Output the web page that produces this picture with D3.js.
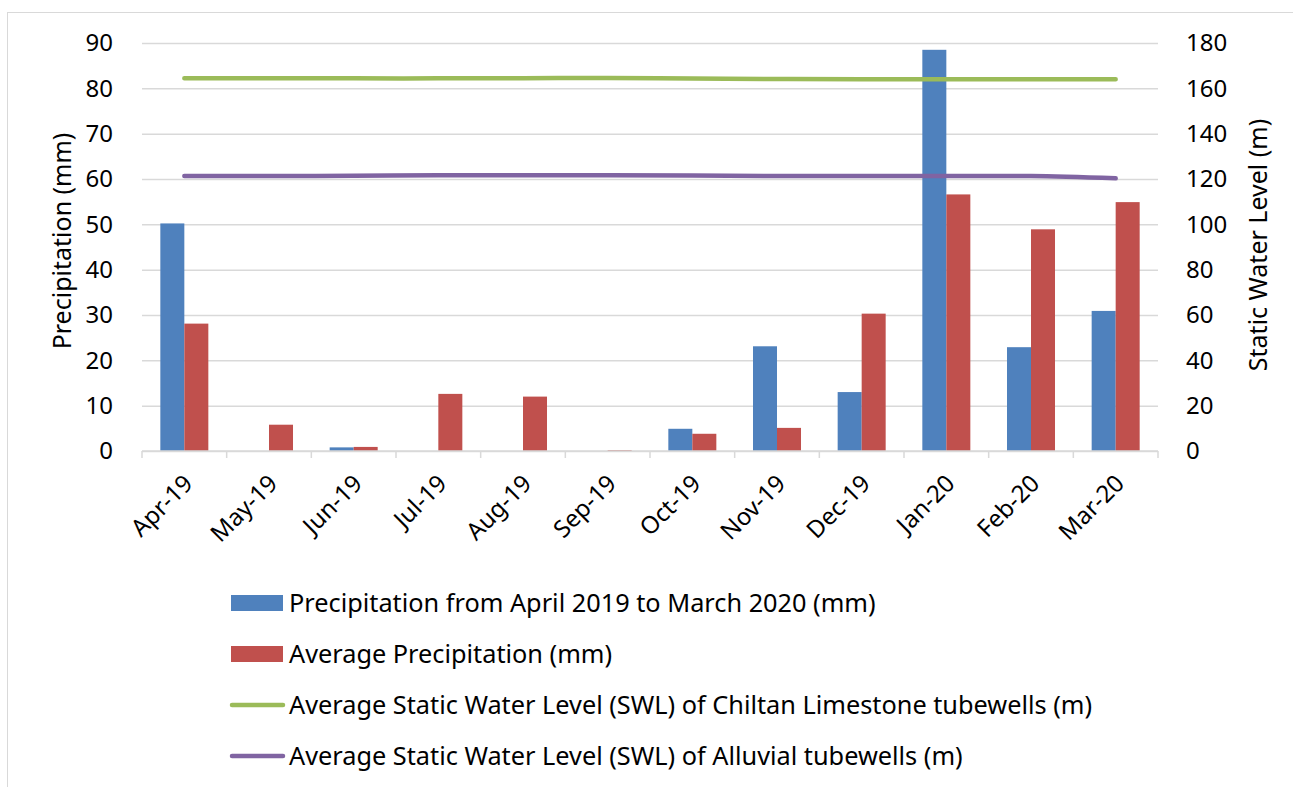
<!DOCTYPE html>
<html>
<head>
  <meta charset="utf-8">
<style>
  body { margin: 0; background: #fff; }
  svg text { font-family: "Noto Sans", "Open Sans", sans-serif; fill: #000; }
  .grid line { stroke: #d9d9d9; stroke-width: 1.5; }
  .grid .domain { display: none; }
</style>
<script src="https://d3js.org/d3.v7.min.js"></script>
</head>
<body>
<svg width="1293" height="787"></svg>
<script>
  // data
  var months = ["Apr-19", "May-19", "Jun-19", "Jul-19", "Aug-19", "Sep-19",
                "Oct-19", "Nov-19", "Dec-19", "Jan-20", "Feb-20", "Mar-20"];
  var precip = [50.2, 0, 0.8, 0, 0, 0, 4.9, 23.1, 13.0, 88.5, 22.9, 30.9];
  var avgPrecip = [28.1, 5.8, 0.9, 12.6, 12.0, 0.2, 3.8, 5.1, 30.3, 56.6, 48.9, 54.9];
  var swlChiltan = [164.4, 164.4, 164.4, 164.4, 164.5, 164.6, 164.3, 164.1, 164.0, 164.0, 164.0, 164.0];
  var swlAlluvial = [121.3, 121.3, 121.4, 121.6, 121.6, 121.6, 121.5, 121.3, 121.3, 121.3, 121.3, 120.3];
  var leftTicks = [0, 10, 20, 30, 40, 50, 60, 70, 80, 90];
  var rightTicks = [0, 20, 40, 60, 80, 100, 120, 140, 160, 180];
  var legendNames = [
    "Precipitation from April 2019 to March 2020 (mm)",
    "Average Precipitation (mm)",
    "Average Static Water Level (SWL) of Chiltan Limestone tubewells (m)",
    "Average Static Water Level (SWL) of Alluvial tubewells (m)"
  ];
  var colors = ["#4f81bd", "#c0504d", "#9bbb59", "#8064a2"];

  function draw() {
    var svg = d3.select("svg");
    var pl = 142, pr = 1158, pt = 43, pb = 451;
    var fs = 24;

    // outer frame
    svg.append("rect")
        .attr("x", 7.5).attr("y", 12.5)
        .attr("width", 1300).attr("height", 800)
        .attr("fill", "none").attr("stroke", "#d9d9d9");

    var x = d3.scaleBand()
        .domain(months)
        .range([pl, pr])
        .paddingInner(0.433)
        .paddingOuter(0.2165);
    var xs = d3.scaleBand().domain([0, 1]).range([0, x.bandwidth()]);
    var y = d3.scaleLinear().domain([0, 90]).range([pb, pt]);
    var y2 = d3.scaleLinear().domain([0, 180]).range([pb, pt]);

    // gridlines
    svg.append("g")
        .attr("class", "grid")
        .attr("transform", "translate(" + pl + ",0)")
        .call(d3.axisLeft(y).tickValues(leftTicks).tickSize(-(pr - pl)).tickFormat(""));

    // left tick labels
    svg.append("g").selectAll("text")
        .data(leftTicks)
      .enter().append("text")
        .attr("x", 113)
        .attr("y", function(d) { return y(d); })
        .attr("dy", "0.35em")
        .attr("text-anchor", "end")
        .style("font-size", fs + "px")
        .text(function(d) { return d; });

    // right tick labels
    svg.append("g").selectAll("text")
        .data(rightTicks)
      .enter().append("text")
        .attr("x", 1186)
        .attr("y", function(d) { return y2(d); })
        .attr("dy", "0.35em")
        .style("font-size", fs + "px")
        .text(function(d) { return d; });

    // bars
    [precip, avgPrecip].forEach(function(vals, s) {
      svg.append("g").selectAll("rect")
          .data(vals)
        .enter().append("rect")
          .attr("x", function(d, i) { return x(months[i]) + xs(s); })
          .attr("y", function(d) { return y(d); })
          .attr("width", xs.bandwidth())
          .attr("height", function(d) { return pb - y(d); })
          .attr("fill", colors[s]);
    });

    // category axis: baseline and boundary ticks
    var xAxis = svg.append("g");
    xAxis.append("line")
        .attr("x1", pl).attr("x2", pr)
        .attr("y1", pb).attr("y2", pb)
        .attr("stroke", "#d9d9d9").attr("stroke-width", 1.5);
    xAxis.selectAll(".tk")
        .data(months.concat(["end"]))
      .enter().append("line")
        .attr("x1", function(d, i) { return pl + i * x.step(); })
        .attr("x2", function(d, i) { return pl + i * x.step(); })
        .attr("y1", pb).attr("y2", pb + 7)
        .attr("stroke", "#d9d9d9").attr("stroke-width", 1.5);
    xAxis.selectAll("text")
        .data(months)
      .enter().append("text")
        .attr("transform", function(d) {
          return "translate(" + (x(d) + x.bandwidth() / 2 + 4) + "," + (pb + 28) + ") rotate(-45)";
        })
        .attr("text-anchor", "end")
        .attr("dy", "0.35em")
        .style("font-size", fs + "px")
        .text(function(d) { return d; });

    // water level lines
    var line = d3.line()
        .x(function(d, i) { return x(months[i]) + x.bandwidth() / 2; })
        .y(function(d) { return y2(d); })
        .curve(d3.curveCatmullRom);

    [swlChiltan, swlAlluvial].forEach(function(vals, k) {
      svg.append("path")
          .datum(vals)
          .attr("fill", "none")
          .attr("stroke", colors[k + 2])
          .attr("stroke-width", 4.5)
          .attr("stroke-linecap", "round")
          .attr("stroke-linejoin", "round")
          .attr("d", line);
    });

    // axis titles
    svg.append("text")
        .attr("transform", "translate(62," + ((pt + pb) / 2 - 6) + ") rotate(-90)")
        .attr("text-anchor", "middle")
        .attr("dy", "0.35em")
        .style("font-size", (fs + 1) + "px")
        .text("Precipitation (mm)");
    svg.append("text")
        .attr("transform", "translate(1258," + ((pt + pb) / 2 - 2) + ") rotate(-90)")
        .attr("text-anchor", "middle")
        .attr("dy", "0.35em")
        .style("font-size", (fs + 1) + "px")
        .text("Static Water Level (m)");

    // legend
    var leg = svg.append("g");
    legendNames.forEach(function(name, i) {
      var cy = 603 + i * 51;
      if (i < 2) {
        leg.append("rect")
            .attr("x", 231).attr("y", cy - 8)
            .attr("width", 52).attr("height", 16)
            .attr("fill", colors[i]);
      } else {
        leg.append("line")
            .attr("x1", 232).attr("x2", 283)
            .attr("y1", cy).attr("y2", cy)
            .attr("stroke", colors[i]).attr("stroke-width", 4.5)
            .attr("stroke-linecap", "round");
      }
      leg.append("text")
          .attr("x", 289).attr("y", cy)
          .attr("dy", "0.35em")
          .style("font-size", "25.3px")
          .text(name);
    });
  }

  draw();
</script>
</body>
</html>
